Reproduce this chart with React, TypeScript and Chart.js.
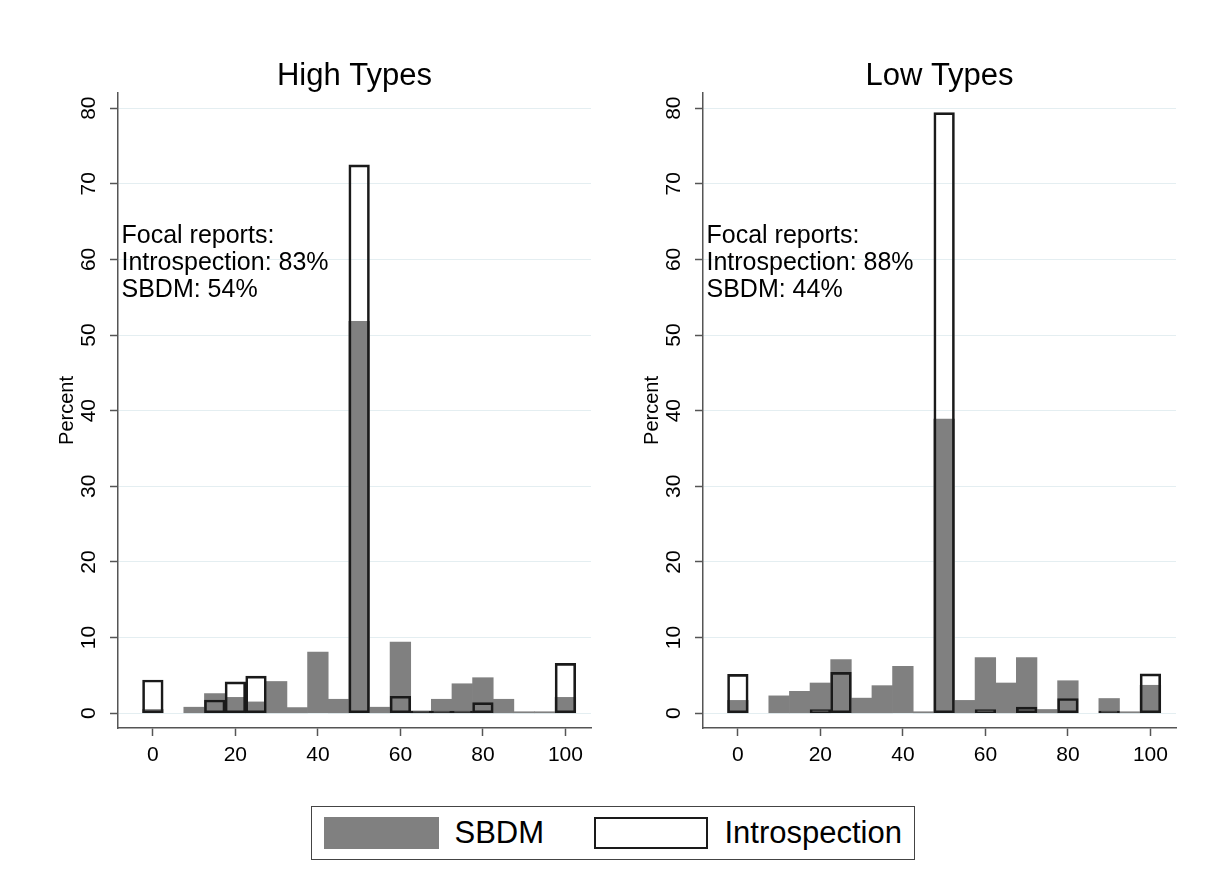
import React, { useEffect, useRef } from 'react';
import { Chart, registerables } from 'chart.js';

Chart.register(...registerables);

// ---- Data ----
const bins = [0, 5, 10, 15, 20, 25, 30, 35, 40, 45, 50, 55, 60, 65, 70, 75, 80, 85, 90, 95, 100];
const xTicks = [0, 20, 40, 60, 80, 100];
const yTicks = [0, 10, 20, 30, 40, 50, 60, 70, 80];
const seriesNames = ['SBDM', 'Introspection'];
const panelTitles = ['High Types', 'Low Types'];

const highSBDM = [0.5, null, 0.8, 2.6, 2.1, 1.5, 4.2, 0.75, 8.1, 1.85, 51.8, 0.8, 9.4, 0.3, 1.85, 3.9, 4.7, 1.85, 0.2, 0.2, 2.1];
const highIntro = [4.4, null, null, 1.75, 4.15, 4.9, null, null, null, null, 72.5, null, 2.25, 0.3, 0.3, 0.3, 1.4, null, null, null, 6.6];
const lowSBDM = [1.7, null, 2.3, 2.9, 4.0, 7.1, 2.0, 3.65, 6.2, 0.2, 38.9, 1.7, 7.35, 4.0, 7.35, 0.5, 4.3, null, 1.95, 0.2, 3.7];
const lowIntro = [5.15, null, null, null, 0.5, 5.4, null, null, null, null, 79.4, null, 0.5, null, 0.8, null, 1.95, null, 0.3, null, 5.2];

const highNotes = ['Focal reports:', 'Introspection: 83%', 'SBDM: 54%'];
const lowNotes = ['Focal reports:', 'Introspection: 88%', 'SBDM: 44%'];

// ---- Styles ----
const FONT = "'Liberation Sans', Arial, sans-serif";
const SBDM_COLOR = '#808080';
const INTRO_BORDER = '#1a1a1a';
const AXIS_COLOR = '#555555';
const GRID_COLOR = '#e4eef1';

const panelTextPlugin = {
  id: 'panelText',
  afterDraw(chart: any, _args: any, opts: any) {
    const { ctx, chartArea } = chart;
    ctx.save();
    ctx.fillStyle = '#000';
    ctx.font = `31px ${FONT}`;
    ctx.textAlign = 'center';
    ctx.textBaseline = 'alphabetic';
    ctx.fillText(opts.title, (chartArea.left + chartArea.right) / 2, 85);
    ctx.font = `25px ${FONT}`;
    ctx.textAlign = 'left';
    (opts.notes as string[]).forEach((t, i) => {
      ctx.fillText(t, chartArea.left + 3.5, 243 + i * 27);
    });
    ctx.restore();
  },
};

function makeConfig(title: string, sbdm: (number | null)[], intro: (number | null)[], notes: string[]): any {
  return {
    type: 'bar',
    data: {
      datasets: [
        {
          label: seriesNames[0],
          data: bins.map((b, i) => ({ x: b, y: sbdm[i] })),
          backgroundColor: SBDM_COLOR,
          borderWidth: 0,
          order: 1,
        },
        {
          label: seriesNames[1],
          data: bins.map((b, i) => ({ x: b, y: intro[i] })),
          backgroundColor: 'rgba(0,0,0,0)',
          borderColor: INTRO_BORDER,
          borderWidth: 2,
          borderSkipped: false,
          order: 0,
        },
      ],
    },
    options: {
      responsive: false,
      animation: false,
      devicePixelRatio: 1,
      layout: { padding: { left: 0, top: 93, right: 9, bottom: 12 } },
      datasets: { bar: { grouped: false, barPercentage: 1, categoryPercentage: 1 } },
      plugins: {
        legend: { display: false },
        tooltip: { enabled: false },
        title: { display: false },
        panelText: { title, notes },
      },
      scales: {
        x: {
          type: 'linear',
          min: -8.45,
          max: 106.2,
          offset: false,
          afterBuildTicks: (s: any) => {
            s.ticks = xTicks.map((v) => ({ value: v }));
          },
          afterFit: (s: any) => {
            s.height = 50;
          },
          grid: {
            display: true,
            drawOnChartArea: false,
            drawTicks: true,
            tickLength: 8,
            tickColor: AXIS_COLOR,
            tickWidth: 1.5,
            offset: false,
          },
          border: { display: true, color: AXIS_COLOR, width: 1.5 },
          ticks: {
            font: { family: FONT, size: 21 },
            color: '#000',
            padding: 7,
            maxRotation: 0,
            minRotation: 0,
            autoSkip: false,
          },
        },
        y: {
          type: 'linear',
          min: -1.95,
          max: 82,
          afterBuildTicks: (s: any) => {
            s.ticks = yTicks.map((v) => ({ value: v }));
          },
          afterFit: (s: any) => {
            s.width = 118;
          },
          grid: {
            color: GRID_COLOR,
            lineWidth: 1,
            drawTicks: true,
            tickLength: 8,
            tickColor: AXIS_COLOR,
            tickWidth: 1.5,
          },
          border: { display: true, color: AXIS_COLOR, width: 1.5 },
          ticks: {
            font: { family: FONT, size: 21 },
            color: '#000',
            padding: 9,
            minRotation: 90,
            maxRotation: 90,
            crossAlign: 'center',
            autoSkip: false,
          },
          title: {
            display: true,
            text: 'Percent',
            color: '#000',
            font: { family: FONT, size: 20 },
            padding: { top: 55, bottom: 0 },
          },
        },
      },
    },
    plugins: [panelTextPlugin],
  };
}

function Panel(props: { left: number; title: string; sbdm: (number | null)[]; intro: (number | null)[]; notes: string[] }) {
  const ref = useRef<HTMLCanvasElement>(null);
  useEffect(() => {
    if (!ref.current) return;
    const chart = new Chart(ref.current, makeConfig(props.title, props.sbdm, props.intro, props.notes));
    return () => chart.destroy();
  }, []);
  return (
    <canvas
      ref={ref}
      width={600}
      height={790}
      style={{ position: 'absolute', left: props.left, top: 0, width: 600, height: 790 }}
    />
  );
}

export default function App() {
  return (
    <div
      style={{
        position: 'absolute',
        left: 0,
        top: 0,
        width: 1215,
        height: 884,
        background: '#fff',
        fontFamily: FONT,
        overflow: 'hidden',
      }}
    >
      <Panel left={0} title={panelTitles[0]} sbdm={highSBDM} intro={highIntro} notes={highNotes} />
      <Panel left={585} title={panelTitles[1]} sbdm={lowSBDM} intro={lowIntro} notes={lowNotes} />
      <div
        style={{
          position: 'absolute',
          left: 311,
          top: 806,
          width: 604,
          height: 54,
          border: '1.5px solid #444',
          boxSizing: 'border-box',
          fontSize: 31,
          color: '#000',
        }}
      >
        <div style={{ position: 'absolute', left: 11.5, top: 9.5, width: 115, height: 32, background: SBDM_COLOR }} />
        <span style={{ position: 'absolute', left: 142.5, top: 0, height: 51, lineHeight: '51px', whiteSpace: 'nowrap' }}>
          {seriesNames[0]}
        </span>
        <div
          style={{
            position: 'absolute',
            left: 281.5,
            top: 9.5,
            width: 114,
            height: 32,
            border: `2.5px solid ${INTRO_BORDER}`,
            boxSizing: 'border-box',
            background: '#fff',
          }}
        />
        <span style={{ position: 'absolute', left: 412.5, top: 0, height: 51, lineHeight: '51px', whiteSpace: 'nowrap' }}>
          {seriesNames[1]}
        </span>
      </div>
    </div>
  );
}
